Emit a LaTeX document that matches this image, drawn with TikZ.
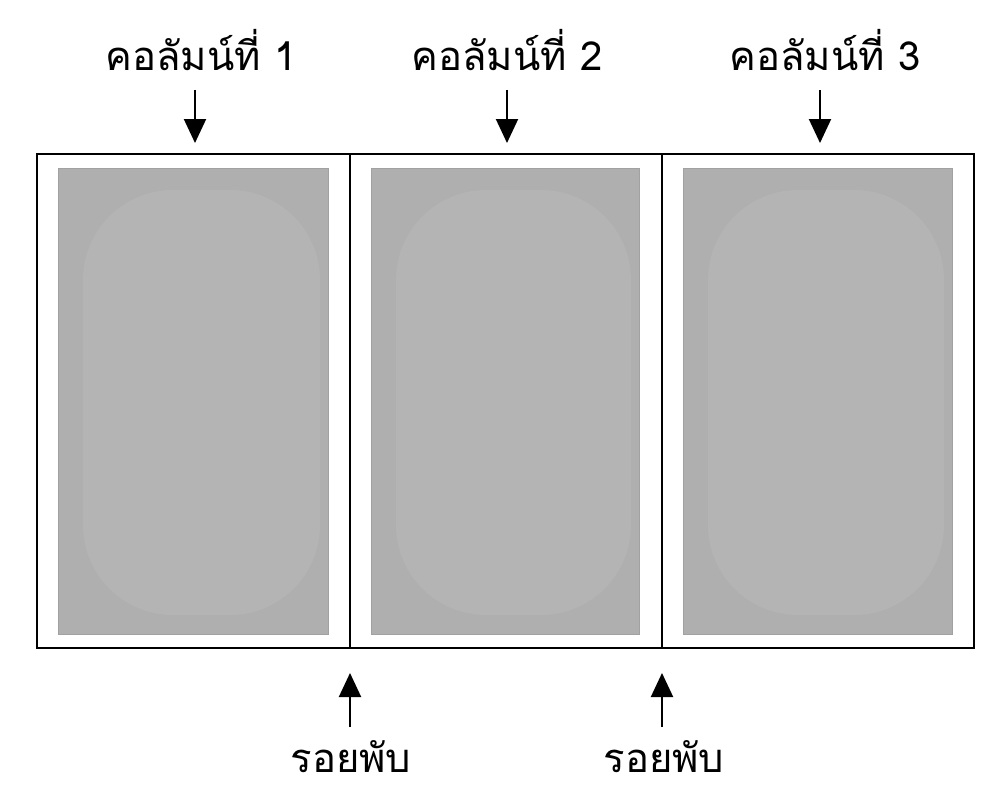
\documentclass[tikz,border=0pt]{standalone}
\usepackage{fontspec}
\newfontfamily\thaifont[Script=Thai]{Loma}
\usetikzlibrary{arrows.meta}
\definecolor{panelgray}{RGB}{175,175,175}
\definecolor{panelin}{RGB}{180,180,180}
\begin{document}
\begin{tikzpicture}[x=1pt,y=-1pt,
  frame/.style={draw=black,line width=2.2pt},
  panel/.style={fill=panelgray,draw=panelgray!92!black,line width=1pt},
  lbl/.style={font=\thaifont\fontsize{40}{44}\selectfont,inner sep=0pt,anchor=base},
  arr/.style={line width=2pt,-{Triangle[length=24pt,width=22pt]}}]
\useasboundingbox (0,0) rectangle (988,788);
% outer frame and folds
\draw[frame] (37,154) rectangle (974,648);
\draw[frame] (350,154) -- (350,648);
\draw[frame] (662,154) -- (662,648);
% panels
\foreach \a/\b in {58/328,371/639,683/952}{
  \draw[panel] (\a,168) rectangle (\b,634);
  \fill[panelin,rounded corners=90pt] (\a+25,190) rectangle (\b-8,615);
}
% labels
\node[lbl] (c1) at (201,70) {คอลัมน์ที่ 1};
\node[lbl] (c2) at (507,70) {คอลัมน์ที่ 2};
\node[lbl] (c3) at (825,70) {คอลัมน์ที่ 3};
\node[lbl] (f1) at (351,772) {รอยพับ};
\node[lbl] (f2) at (664,772) {รอยพับ};
% arrows
\coordinate (t1) at (195,90); \coordinate (h1) at (195,143);
\coordinate (t2) at (507,90); \coordinate (h2) at (507,143);
\coordinate (t3) at (820,90); \coordinate (h3) at (820,143);
\coordinate (b1) at (350,727); \coordinate (u1) at (350,673);
\coordinate (b2) at (662,727); \coordinate (u2) at (662,673);
\draw[arr] (t1) -- (h1);
\draw[arr] (t2) -- (h2);
\draw[arr] (t3) -- (h3);
\draw[arr] (b1) -- (u1);
\draw[arr] (b2) -- (u2);
\end{tikzpicture}
\end{document}
